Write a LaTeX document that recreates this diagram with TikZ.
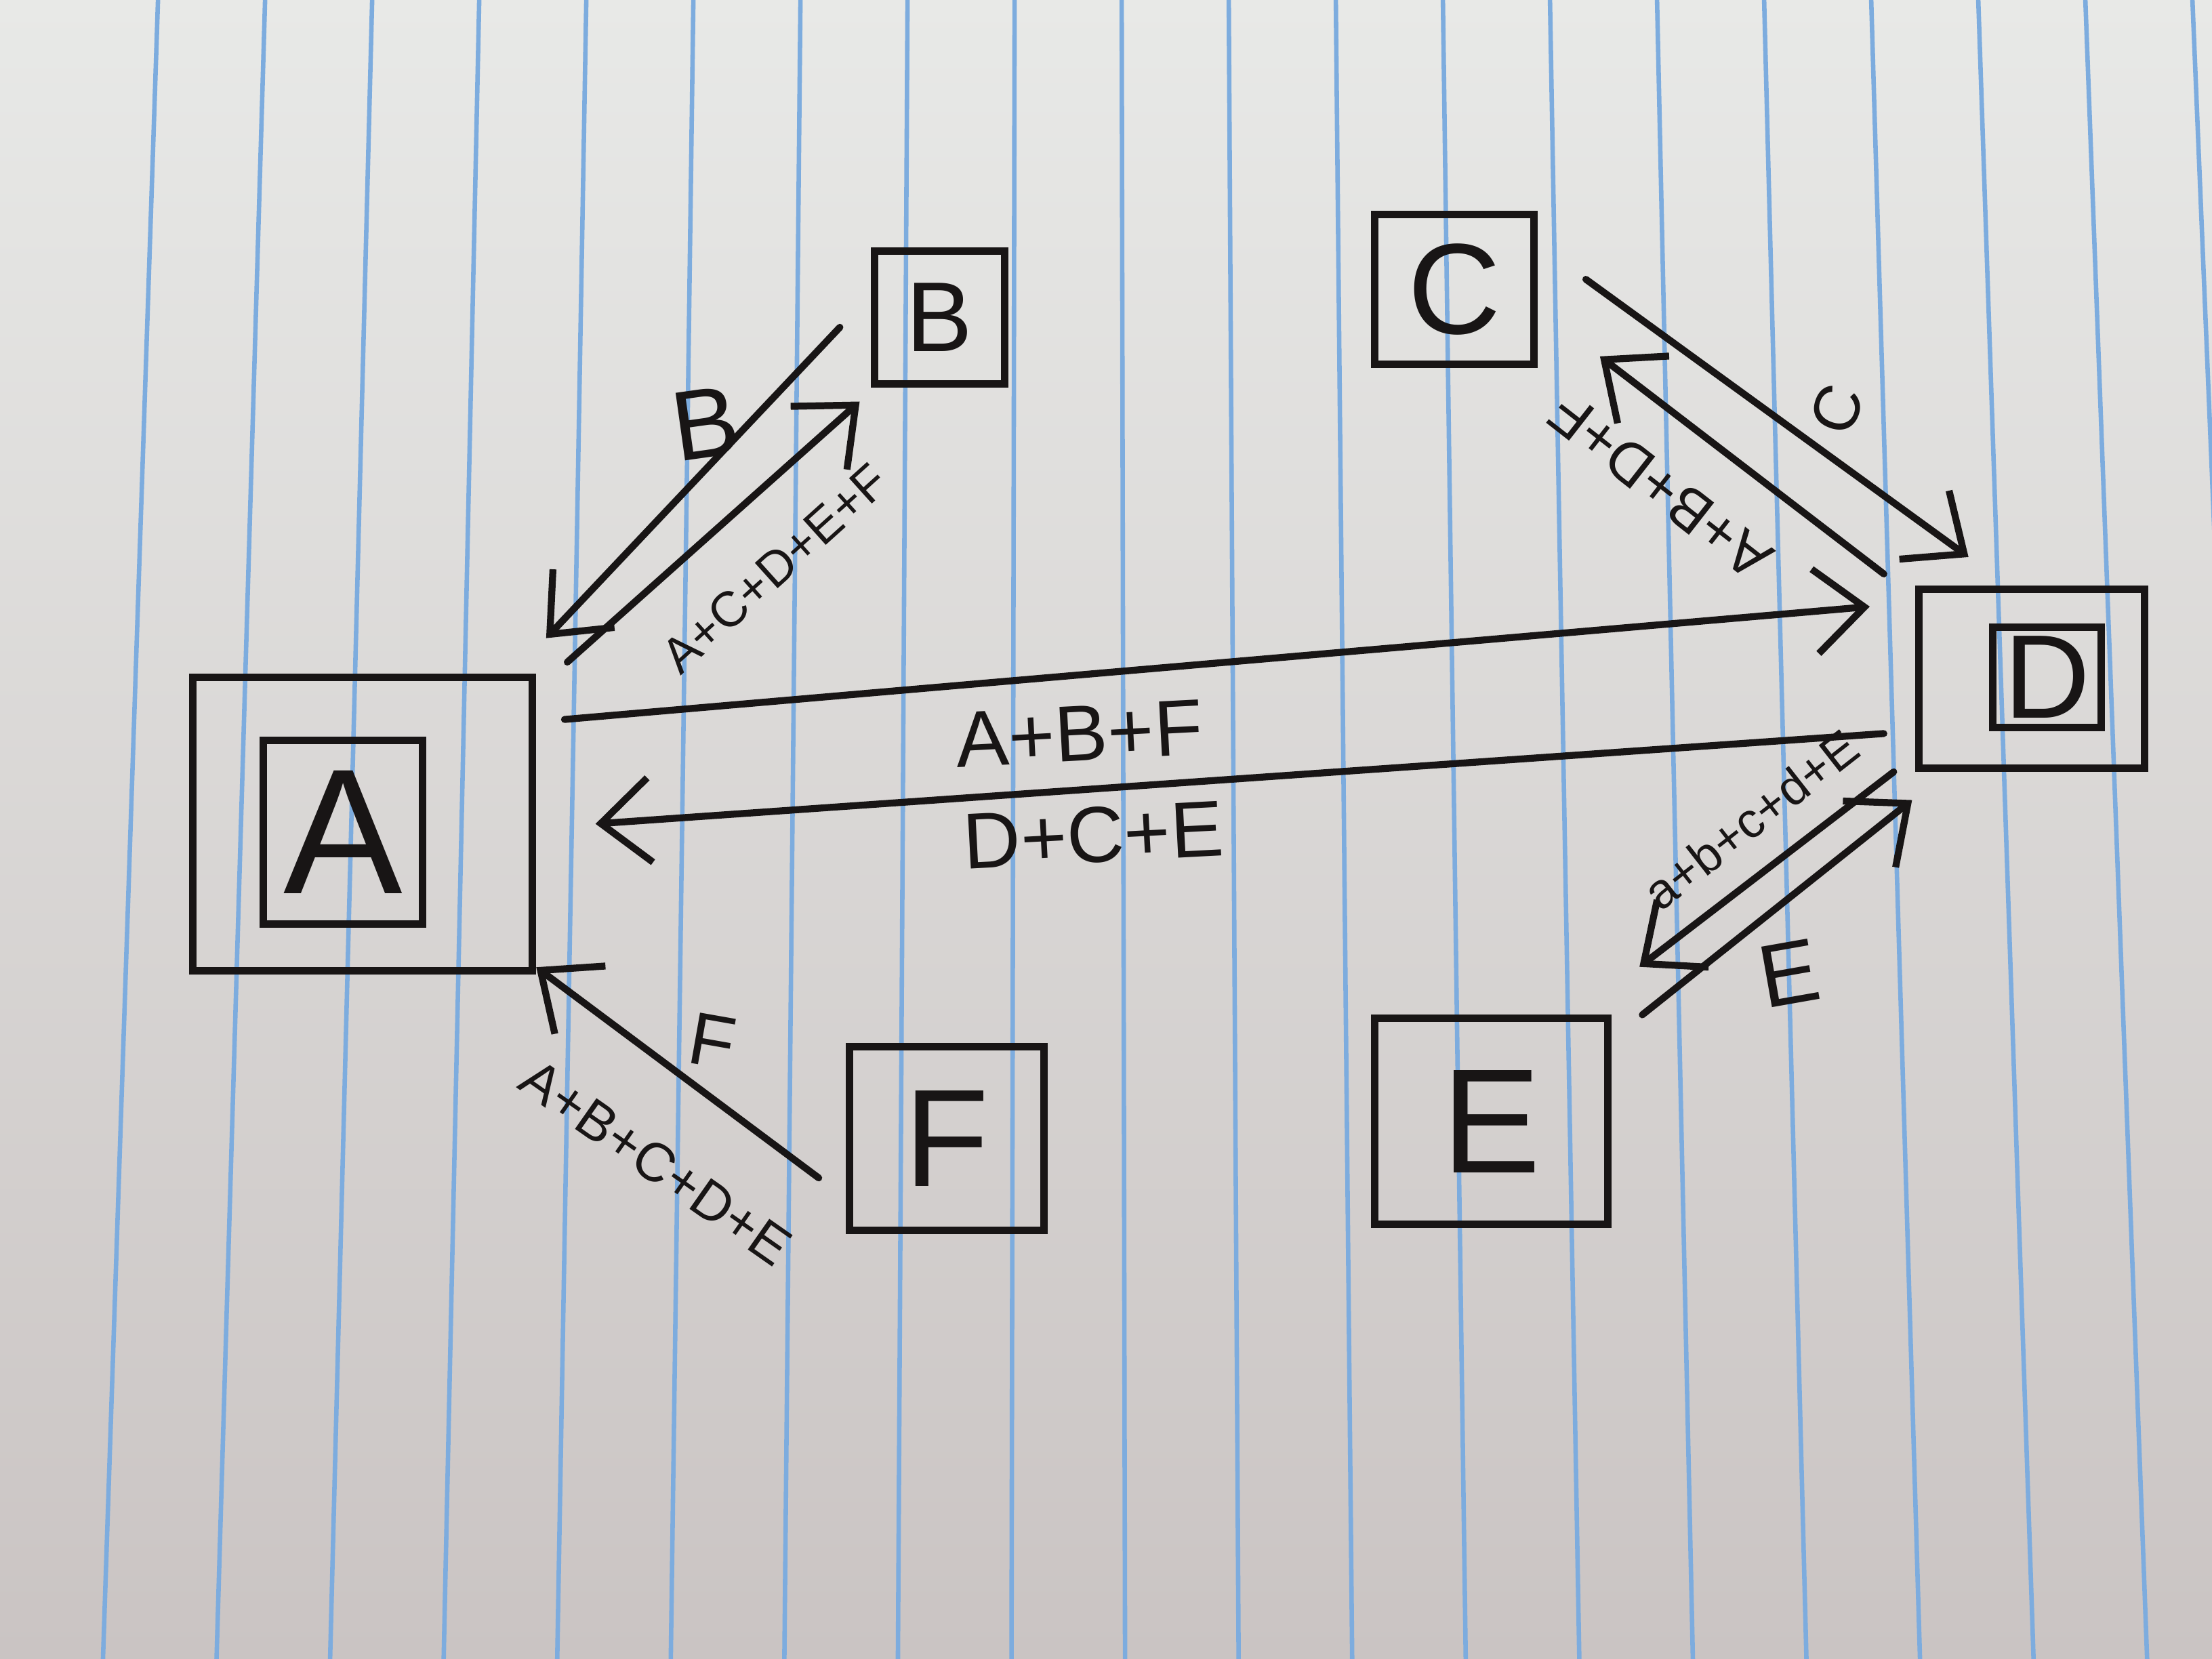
\documentclass[tikz,border=0pt]{standalone}
\usepackage{fontspec}
\setmainfont{Liberation Sans}
\usetikzlibrary{arrows.meta}

\definecolor{papertop}{RGB}{232,233,231}
\definecolor{paperbot}{RGB}{202,196,195}
\definecolor{rule}{RGB}{125,172,222}
\definecolor{ink}{RGB}{24,21,21}

\newcommand{\fs}[1]{\fontsize{#1}{#1}\selectfont}

\tikzset{
  box/.style={draw=ink, line width=1.5pt, inner sep=0pt, text=ink},
  flow/.style={draw=ink, line width=1.4pt, line cap=round,
    -{Straight Barb[length=3.5mm,width=6mm,line width=1.4pt]}},
  lbl/.style={text=ink, inner sep=1pt},
}

\begin{document}
\begin{tikzpicture}
  \useasboundingbox (0,0) rectangle (15.68,-11.76);
  % paper and its blue rules
  \shade[top color=papertop, bottom color=paperbot] (0,0) rectangle (15.68,-11.76);
  \foreach \i in {0,...,19}
    \draw[rule, line width=0.9pt] ({1.12+0.759*\i},0) -- ({0.73+0.805*\i},-11.76);

  % boxes
  \node[box, minimum width=2.41cm, minimum height=2.08cm] (Aout) at (2.57,-5.84) {};
  \node[box, minimum width=1.13cm, minimum height=1.30cm] (A) at (2.43,-5.90) {\fs{36}A};
  \node[box, minimum width=0.92cm, minimum height=0.94cm] (B) at (6.66,-2.25) {\fs{20}B};
  \node[box, minimum width=1.13cm, minimum height=1.06cm] (C) at (10.31,-2.05) {\fs{26}C};
  \node[box, minimum width=1.60cm, minimum height=1.27cm] (Dout) at (14.40,-4.81) {};
  \node[box, minimum width=0.77cm, minimum height=0.71cm] (D) at (14.51,-4.80) {\fs{24}D};
  \node[box, minimum width=1.65cm, minimum height=1.46cm] (E) at (10.57,-7.95) {\fs{30}E};
  \node[box, minimum width=1.38cm, minimum height=1.30cm] (F) at (6.71,-8.07) {\fs{28}F};

  % flows between the boxes
  \draw[flow] ([xshift=-0.22cm,yshift=-0.07cm]B.west) -- ([xshift=0.07cm,yshift=0.25cm]Aout.north east);
  \draw[flow] ([xshift=0.22cm,yshift=0.08cm]Aout.north east) -- ([xshift=-0.08cm,yshift=-0.10cm]B.south west);
  \draw[flow] ([xshift=0.34cm,yshift=0.07cm]C.east) -- ([xshift=0.38cm,yshift=0.20cm]Dout.north west);
  \draw[flow] ([xshift=-0.22cm,yshift=0.08cm]Dout.north west) -- ([xshift=0.44cm,yshift=0.08cm]C.south east);
  \draw[flow] ([xshift=0.20cm,yshift=0.74cm]Aout.east) -- ([xshift=-0.32cm,yshift=0.51cm]Dout.west);
  \draw[flow] ([xshift=-0.22cm,yshift=-0.39cm]Dout.west) -- ([xshift=0.42cm]Aout.east);
  \draw[flow] ([xshift=-0.15cm]Dout.south west) -- ([xshift=0.20cm,yshift=0.34cm]E.north east);
  \draw[flow] ([xshift=0.22cm]E.north east) -- ([xshift=-0.02cm,yshift=-0.20cm]Dout.south west);
  \draw[flow] ([xshift=-0.19cm,yshift=-0.28cm]F.west) -- ([yshift=0.05cm]Aout.south east);

  % labels
  \draw (5.00,-3.00) node[lbl, rotate=8] (bLbl) {\fs{20}B};
  \draw (5.49,-4.03) node[lbl, rotate=42] (acdefLbl) {\fs{10}A+C+D+E+F};
  \draw (13.02,-2.90) node[lbl, rotate=70] (cLbl) {\fs{13}C};
  \draw (11.77,-3.45) node[lbl, rotate=142] (abdfLbl) {\fs{12}A+B+D+F};
  \draw (7.65,-5.20) node[lbl, rotate=3] (abfLbl) {\fs{16}A+B+F};
  \draw (7.75,-5.92) node[lbl, rotate=3] (dceLbl) {\fs{16}D+C+E};
  \draw (12.41,-5.81) node[lbl, rotate=38] (abcdLbl) {\fs{10}a+b+c+d+E};
  \draw (12.68,-6.90) node[lbl, rotate=10] (eLbl) {\fs{18}E};
  \draw (5.05,-7.38) node[lbl, rotate=-10] (fLbl) {\fs{15}F};
  \draw (4.65,-8.24) node[lbl, rotate=-35] (abcdeLbl) {\fs{11}A+B+C+D+E};
\end{tikzpicture}
\end{document}
